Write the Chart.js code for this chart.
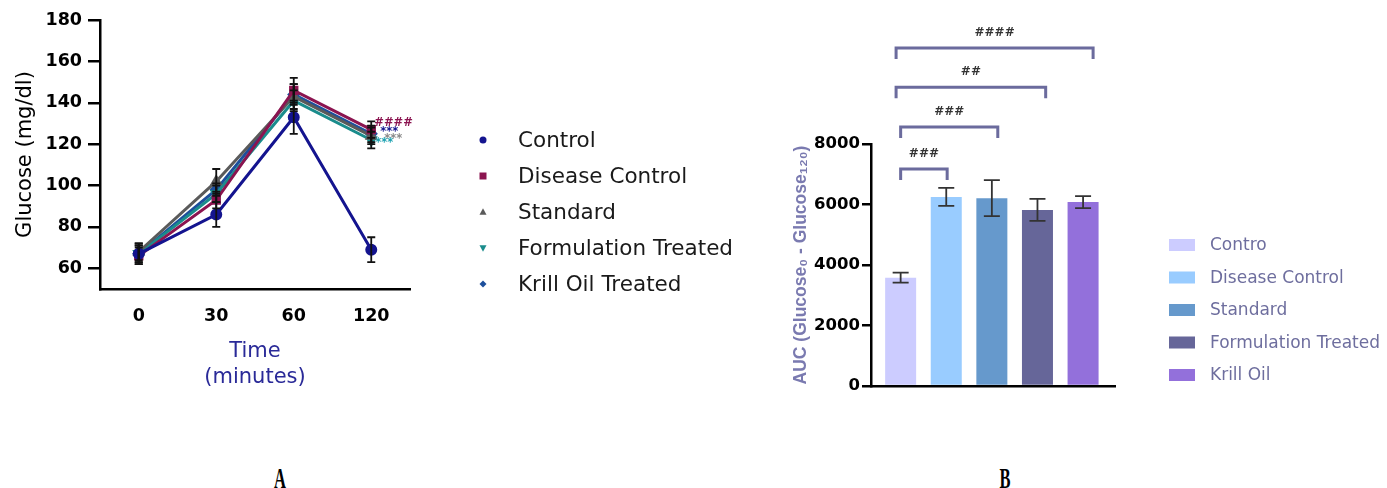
<!DOCTYPE html>
<html>
<head>
<meta charset="utf-8">
<script src="https://cdn.jsdelivr.net/npm/chart.js@4"></script>
<style>
  html, body { margin: 0; padding: 0; background: #fff; }
  #wrap { position: relative; width: 1387px; height: 488px; overflow: hidden; }
  #left { position: absolute; left: 0; top: 0; }
  #right { position: absolute; left: 760px; top: 0; }
  .panel { position: absolute; top: 461px; width: 40px; text-align: center; line-height: 28px;
           font: bold 30px "Liberation Serif", serif; transform: scaleX(0.55); color: #000; }
</style>
</head>
<body>
<div id="wrap">
  <canvas id="left" width="760" height="400"></canvas>
  <canvas id="right" width="627" height="400"></canvas>
  <div class="panel" style="left:260px">A</div>
  <div class="panel" style="left:985px">B</div>
</div>
<script>
// ---- panel A data (glucose tolerance) ----
var timeLabels = ["0", "30", "60", "120"];
var groupNames = ["Control", "Disease Control", "Standard", "Formulation Treated", "Krill Oil Treated"];
var controlMean = [67, 86, 133, 69];
var controlErr = [5, 6, 8, 6];
var diseaseMean = [66, 93, 146, 127];
var diseaseErr = [4, 4, 6, 4];
var standardMean = [68, 102, 143, 124];
var standardErr = [4, 6, 6, 4];
var formulationMean = [67, 96, 141, 122];
var formulationErr = [4, 4, 5, 4];
var krillMean = [67, 98, 144, 125];
var krillErr = [4, 3, 5, 4];
// significance marks next to the 120 min point
var sigText = ["####", "***", "***", "***"];
var sigValue = [130.4, 126, 122.7, 120.7];

// ---- panel B data (AUC) ----
var aucGroups = ["Contro", "Disease Control", "Standard", "Formulation Treated", "Krill Oil"];
var aucMean = [3580, 6250, 6210, 5820, 6080];
var aucErr = [165, 298, 595, 364, 200];
var bracketFrom = [0, 0, -0.1, -0.1];
var bracketTo = [1.02, 2.13, 3.18, 4.22];
var bracketValue = [7170, 8560, 9880, 11170];
var bracketText = ["###", "###", "##", "####"];

var lineColors = ["#14148f", "#8b1450", "#5a5a5a", "#1a8c8c", "#1d4f9c"];
var pointStyles = ["circle", "rect", "triangle", "triangle", "rectRot"];
var pointRot = [0, 0, 0, 180, 0];
var barColors = ["#ccccff", "#99ccff", "#6699cc", "#666699", "#9370db"];

var means = [controlMean, diseaseMean, standardMean, formulationMean, krillMean];
var errs = [controlErr, diseaseErr, standardErr, formulationErr, krillErr];

function drawMarker(ctx, style, rot, x, y, r, color) {
  ctx.save();
  ctx.fillStyle = color;
  ctx.translate(x, y);
  ctx.rotate(rot * Math.PI / 180);
  ctx.beginPath();
  if (style === "circle") {
    ctx.arc(0, 0, r, 0, Math.PI * 2);
  } else if (style === "rect") {
    ctx.rect(-r, -r, 2 * r, 2 * r);
  } else if (style === "triangle") {
    ctx.moveTo(0, -r * 1.1);
    ctx.lineTo(r, r * 0.8);
    ctx.lineTo(-r, r * 0.8);
    ctx.closePath();
  } else {
    ctx.moveTo(0, -r);
    ctx.lineTo(r, 0);
    ctx.lineTo(0, r);
    ctx.lineTo(-r, 0);
    ctx.closePath();
  }
  ctx.fill();
  ctx.restore();
}

var leftExtras = {
  id: "leftExtras",
  afterDatasetsDraw: function(chart) {
    var ctx = chart.ctx, y = chart.scales.y;
    ctx.save();
    ctx.strokeStyle = "#111";
    ctx.lineWidth = 1.8;
    chart.data.datasets.forEach(function(ds, di) {
      var meta = chart.getDatasetMeta(di);
      meta.data.forEach(function(pt, i) {
        var top = y.getPixelForValue(ds.data[i] + ds.err[i]);
        var bot = y.getPixelForValue(ds.data[i] - ds.err[i]);
        ctx.beginPath();
        ctx.moveTo(pt.x, top); ctx.lineTo(pt.x, bot);
        ctx.moveTo(pt.x - 4, top); ctx.lineTo(pt.x + 4, top);
        ctx.moveTo(pt.x - 4, bot); ctx.lineTo(pt.x + 4, bot);
        ctx.stroke();
      });
    });
    // significance marks at the last time point
    var last = chart.getDatasetMeta(0).data[timeLabels.length - 1];
    var sigColors = [lineColors[1], lineColors[0], "#8a8a8a", "#1aa0b0"];
    var sigDx = [3, 9, 13, 4];
    ctx.font = "bold 11.5px 'DejaVu Sans'";
    ctx.textBaseline = "middle";
    ctx.textAlign = "left";
    sigText.forEach(function(t, i) {
      ctx.fillStyle = sigColors[i];
      ctx.fillText(t, last.x + sigDx[i], y.getPixelForValue(sigValue[i]));
    });
    ctx.restore();
  },
  afterDraw: function(chart) {
    var ctx = chart.ctx;
    ctx.save();
    ctx.font = "21.5px 'DejaVu Sans'";
    ctx.textBaseline = "middle";
    ctx.textAlign = "left";
    groupNames.forEach(function(name, i) {
      var ry = 140 + i * 36;
      drawMarker(ctx, pointStyles[i], pointRot[i], 483, ry, 3.5, lineColors[i]);
      ctx.fillStyle = "#1a1a1a";
      ctx.fillText(name, 518, ry + 1);
    });
    ctx.restore();
  }
};

new Chart(document.getElementById("left"), {
  type: "line",
  data: {
    labels: timeLabels,
    datasets: groupNames.map(function(name, i) {
      return {
        label: name,
        data: means[i],
        err: errs[i],
        borderColor: lineColors[i],
        backgroundColor: lineColors[i],
        pointBackgroundColor: lineColors[i],
        pointBorderColor: lineColors[i],
        pointStyle: pointStyles[i],
        rotation: pointRot[i],
        pointRadius: 4.5,
        borderWidth: 3,
        fill: false,
        tension: 0
      };
    })
  },
  options: {
    responsive: false,
    animation: false,
    layout: { padding: { left: 0, top: 20, right: 350, bottom: 0 } },
    plugins: { legend: { display: false }, tooltip: { enabled: false } },
    scales: {
      x: {
        offset: true,
        grid: { display: false, drawTicks: false },
        border: { color: "#000", width: 2.5 },
        ticks: { color: "#000", padding: 17, font: { family: "DejaVu Sans", size: 17.5, weight: "bold" } },
        title: {
          display: true,
          text: ["Time", "(minutes)"],
          color: "#2a2a98",
          font: { family: "DejaVu Sans", size: 21, lineHeight: 1.24 },
          padding: { top: 0, bottom: 9 }
        },
        afterFit: function(s) { s.height = 111; }
      },
      y: {
        min: 50,
        max: 180,
        border: { color: "#000", width: 2.5 },
        grid: { drawOnChartArea: false, tickLength: 12, color: "#000", lineWidth: 2.5 },
        ticks: { stepSize: 20, color: "#000", padding: 6, font: { family: "DejaVu Sans", size: 17.5, weight: "bold" } },
        afterBuildTicks: function(s) { s.ticks = s.ticks.filter(function(t) { return t.value % 20 === 0; }); },
        title: {
          display: true,
          text: "Glucose (mg/dl)",
          color: "#000",
          font: { family: "DejaVu Sans", size: 21 },
          padding: { top: 13, bottom: 0 }
        },
        afterFit: function(s) { s.width = 100; }
      }
    }
  },
  plugins: [leftExtras]
});

var rightExtras = {
  id: "rightExtras",
  afterDatasetsDraw: function(chart) {
    var ctx = chart.ctx, y = chart.scales.y, x = chart.scales.x;
    ctx.save();
    ctx.strokeStyle = "#333";
    ctx.lineWidth = 1.8;
    chart.getDatasetMeta(0).data.forEach(function(bar, i) {
      var top = y.getPixelForValue(aucMean[i] + aucErr[i]);
      var bot = y.getPixelForValue(aucMean[i] - aucErr[i]);
      ctx.beginPath();
      ctx.moveTo(bar.x, top); ctx.lineTo(bar.x, bot);
      ctx.moveTo(bar.x - 8, top); ctx.lineTo(bar.x + 8, top);
      ctx.moveTo(bar.x - 8, bot); ctx.lineTo(bar.x + 8, bot);
      ctx.stroke();
    });
    // comparison brackets
    ctx.strokeStyle = "#6b6b9d";
    ctx.lineWidth = 3;
    ctx.font = "bold 12px 'DejaVu Sans'";
    ctx.fillStyle = "#333";
    ctx.textAlign = "center";
    ctx.textBaseline = "middle";
    bracketText.forEach(function(t, i) {
      var x1 = x.getPixelForValue(bracketFrom[i]);
      var x2 = x.getPixelForValue(bracketTo[i]);
      var yt = y.getPixelForValue(bracketValue[i]);
      ctx.beginPath();
      ctx.moveTo(x1, yt + 11);
      ctx.lineTo(x1, yt);
      ctx.lineTo(x2, yt);
      ctx.lineTo(x2, yt + 11);
      ctx.stroke();
      ctx.fillText(t, (x1 + x2) / 2, yt - 15);
    });
    ctx.restore();
  },
  afterDraw: function(chart) {
    var ctx = chart.ctx;
    ctx.save();
    ctx.font = "17px 'DejaVu Sans'";
    ctx.textBaseline = "middle";
    ctx.textAlign = "left";
    aucGroups.forEach(function(name, i) {
      var ry = 245 + i * 32.5;
      ctx.fillStyle = barColors[i];
      ctx.fillRect(409, ry - 6, 26, 12);
      ctx.fillStyle = "#6e6e9e";
      ctx.fillText(name, 450, ry + 1);
    });
    ctx.restore();
  }
};

new Chart(document.getElementById("right"), {
  type: "bar",
  data: {
    labels: aucGroups,
    datasets: [{
      label: "AUC",
      data: aucMean.map(function(v, i) { return { x: i, y: v }; }),
      backgroundColor: barColors,
      barPercentage: 0.85,
      categoryPercentage: 0.8
    }]
  },
  options: {
    responsive: false,
    animation: false,
    layout: { padding: { left: 0, top: 144, right: 272, bottom: 0 } },
    plugins: { legend: { display: false }, tooltip: { enabled: false } },
    scales: {
      x: {
        type: "linear",
        offset: false,
        min: -0.65,
        max: 4.7,
        ticks: { display: false },
        afterBuildTicks: function(s) { s.ticks = aucMean.map(function(v, i) { return { value: i }; }); },
        grid: { display: false, drawTicks: false, offset: false },
        border: { color: "#000", width: 2.5 },
        afterFit: function(s) { s.height = 14; }
      },
      y: {
        min: 0,
        max: 8000,
        border: { color: "#000", width: 2.5 },
        grid: { drawOnChartArea: false, tickLength: 9, color: "#000", lineWidth: 2.5 },
        ticks: {
          stepSize: 2000, color: "#000", padding: 2,
          font: { family: "DejaVu Sans", size: 16.5, weight: "bold" },
          callback: function(v) { return String(v); }
        },
        title: {
          display: true,
          text: "AUC (Glucose\u2080 - Glucose\u2081\u2082\u2080)",
          color: "#7a7ab0",
          font: { family: "Liberation Sans", size: 17.5, weight: "bold" },
          padding: { top: 31, bottom: 0 }
        },
        afterFit: function(s) { s.width = 111; }
      }
    }
  },
  plugins: [rightExtras]
});
</script>
</body>
</html>
